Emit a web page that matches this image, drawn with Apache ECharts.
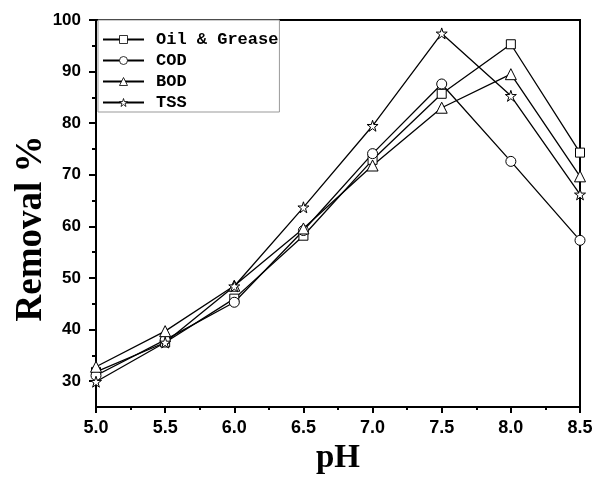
<!DOCTYPE html>
<html>
<head>
<meta charset="utf-8">
<script src="https://cdn.jsdelivr.net/npm/echarts@6/dist/echarts.min.js"></script>
<style>html,body{margin:0;padding:0;background:#fff;}#c{width:603px;height:481px;}</style>
</head>
<body>
<div id="c"></div>
<script>
var pH = [5.0, 5.5, 6.0, 6.5, 7.0, 7.5, 8.0, 8.5];
var oilGrease = [31.8, 37.5, 46.0, 58.2, 72.9, 85.7, 95.3, 74.3];
var cod = [31.1, 38.0, 45.3, 59.2, 74.1, 87.6, 72.6, 57.3];
var bod = [32.8, 39.7, 48.5, 59.6, 71.8, 83.0, 89.5, 69.7];
var tss = [29.9, 37.5, 48.4, 63.7, 79.5, 97.4, 85.3, 66.2];
var yMajorTicks = [30, 40, 50, 60, 70, 80, 90, 100];
var yMinorTicks = [35, 45, 55, 65, 75, 85, 95];
var seriesNames = ['Oil & Grease', 'COD', 'BOD', 'TSS'];

var starPath = 'path://M50 0 L61.2 34.6 L97.6 34.5 L68.1 55.9 L79.4 90.5 L50 69 L20.6 90.5 L31.9 55.9 L2.4 34.5 L38.8 34.6 Z';
function pairs(vals) { return pH.map(function (x, i) { return [x, vals[i]]; }); }
function mk(name, vals, symbol, size) {
  return {
    name: name, type: 'line', data: pairs(vals), symbol: symbol, symbolSize: size,
    clip: false,
    lineStyle: { color: '#000', width: 1.3 },
    itemStyle: { color: '#fff', borderColor: '#000', borderWidth: 1 },
    emphasis: { disabled: true }, z: 3
  };
}
var tickStyle = { color: '#000', width: 2 };
var chart = echarts.init(document.getElementById('c'), null, { renderer: 'canvas' });
chart.setOption({
  animation: false,
  backgroundColor: '#fff',
  grid: { left: 96, right: 23, top: 20, bottom: 74, show: true, borderColor: '#000', borderWidth: 2,
    backgroundColor: 'transparent', containLabel: false, outerBoundsMode: 'none' },
  legend: {
    orient: 'vertical', left: 98, top: 20, data: seriesNames,
    backgroundColor: '#fff', borderColor: '#999', borderWidth: 1, padding: [11, 1, 1, 4],
    itemWidth: 41, itemHeight: 10, itemGap: 4,
    itemStyle: { borderWidth: 0.8 },
    textStyle: { fontFamily: 'Liberation Mono', fontWeight: 'bold', fontSize: 17, color: '#000', padding: [0, 0, 0, 7] }
  },
  xAxis: {
    type: 'value', min: 5, max: 8.5, interval: 0.5,
    name: 'pH', nameLocation: 'middle', nameGap: 35,
    nameTextStyle: { fontFamily: 'Liberation Serif', fontWeight: 'bold', fontSize: 33, color: '#000' },
    axisLine: { lineStyle: { color: '#000', width: 2 } },
    axisTick: { inside: false, length: 6, lineStyle: tickStyle },
    minorTick: { show: true, splitNumber: 2, length: 3, lineStyle: tickStyle },
    splitLine: { show: false },
    axisLabel: { color: '#000', fontFamily: 'Liberation Sans', fontWeight: 'bold', fontSize: 18, margin: 12,
      formatter: function (v) { return v.toFixed(1); } }
  },
  yAxis: [{
    type: 'value', min: 25, max: 100, interval: 5,
    name: 'Removal %', nameLocation: 'middle', nameRotate: 90, nameGap: 46, nameMoveOverlap: false,
    nameTextStyle: { fontFamily: 'Liberation Serif', fontWeight: 'bold', fontSize: 37, color: '#000', padding: [0, 30, 0, 0] },
    axisLine: { lineStyle: { color: '#000', width: 2 } },
    axisTick: { inside: false, length: 7, customValues: yMajorTicks, lineStyle: tickStyle },
    splitLine: { show: false },
    axisLabel: { color: '#000', fontFamily: 'Liberation Sans', fontWeight: 'bold', fontSize: 17, margin: 15,
      customValues: yMajorTicks,
      formatter: function (v) { return v % 10 === 0 ? String(v) : ''; } }
  }, {
    type: 'value', min: 25, max: 100, interval: 5, position: 'left', offset: 0,
    axisLine: { show: false },
    axisTick: { inside: false, length: 4, customValues: yMinorTicks, lineStyle: tickStyle },
    splitLine: { show: false },
    axisLabel: { show: false }
  }],
  series: [
    mk(seriesNames[0], oilGrease, 'rect', 9),
    mk(seriesNames[1], cod, 'circle', 10),
    mk(seriesNames[2], bod, 'triangle', 11),
    mk(seriesNames[3], tss, starPath, 11)
  ]
});
</script>
</body>
</html>
